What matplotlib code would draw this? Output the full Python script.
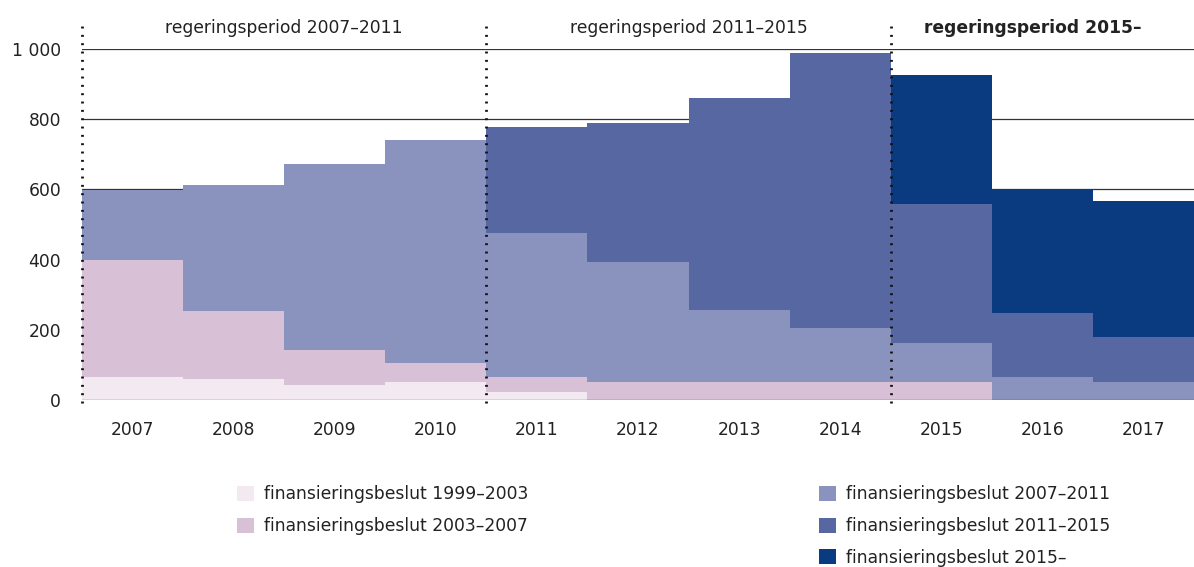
import numpy as np
import matplotlib
matplotlib.use('Agg')
import matplotlib.pyplot as plt
from matplotlib.patches import Patch

plt.rcParams['font.family'] = ['DejaVu Sans']

years = ['2007', '2008', '2009', '2010', '2011', '2012', '2013', '2014', '2015', '2016', '2017']

# segment heights per decision period (bottom to top)
beslut_1999_2003 = [65, 60, 43, 51, 23, 0, 0, 0, 0, 0, 0]
beslut_2003_2007 = [333, 193, 99, 54, 42, 51, 51, 51, 51, 0, 0]
beslut_2007_2011 = [200, 359, 529, 635, 410, 342, 205, 154, 111, 65, 51]
beslut_2011_2015 = [0, 0, 0, 0, 302, 395, 604, 785, 396, 182, 129]
beslut_2015 = [0, 0, 0, 0, 0, 0, 0, 0, 369, 351, 386]

series = [beslut_1999_2003, beslut_2003_2007, beslut_2007_2011, beslut_2011_2015, beslut_2015]
labels = ['finansieringsbeslut 1999–2003', 'finansieringsbeslut 2003–2007',
          'finansieringsbeslut 2007–2011', 'finansieringsbeslut 2011–2015',
          'finansieringsbeslut 2015–']
colors = ['#f2e9f1', '#d8c0d6', '#8a93be', '#5667a1', '#0a3a80']

periods = ['regeringsperiod 2007–2011', 'regeringsperiod 2011–2015', 'regeringsperiod 2015–']
period_start = [0, 4, 8]
period_end = [3, 7, 10]

yticks = [0, 200, 400, 600, 800, 1000]
ytick_labels = ['0', '200', '400', '600', '800', '1 000']

text_col = '#222222'
fs = 12.3

fig = plt.figure(figsize=(11.94, 5.67), dpi=100)
ax = fig.add_axes([82 / 1194, 167 / 567, 1112 / 1194, 351 / 567])

x = np.arange(len(years))
bottom = np.zeros(len(years))
for vals, col in zip(series, colors):
    ax.bar(x, vals, width=1.0, bottom=bottom, color=col, linewidth=0, zorder=2)
    bottom += np.array(vals)

for y in yticks:
    ax.axhline(y, color='#333333', lw=0.9, zorder=3 if y == 0 else 1)

ax.set_xlim(-0.5, len(years) - 0.5)
ax.set_ylim(0, 1000)
ax.set_yticks(yticks)
ax.set_yticklabels(ytick_labels)
ax.set_xticks(x)
ax.set_xticklabels(years)
ax.tick_params(axis='both', length=0, labelsize=fs, colors=text_col)
ax.tick_params(axis='y', pad=15)
ax.tick_params(axis='x', pad=15)
for s in ax.spines.values():
    s.set_visible(False)

# period separators
for s in period_start:
    ax.plot([s - 0.5, s - 0.5], [-8, 1067], color='#111111', lw=2,
            linestyle=(0, (0.7, 2.3)), clip_on=False, zorder=5)

for name, s, e, i in zip(periods, period_start, period_end, range(3)):
    xc = (s + e) / 2 - (0.1 if i == 2 else 0)
    ax.text(xc, 1061, name, ha='center', va='center', fontsize=fs,
            color=text_col, fontweight='bold' if i == 2 else 'normal')

handles = [Patch(facecolor=c, edgecolor='none') for c in colors]
fig.legend(handles[:2], labels[:2], loc='upper left', bbox_to_anchor=(222 / 1194, 1 - 470 / 567),
           frameon=False, fontsize=fs, handlelength=0.95, handleheight=0.95,
           handletextpad=0.6, labelspacing=0.8, labelcolor=text_col)
fig.legend(handles[2:], labels[2:], loc='upper left', bbox_to_anchor=(804 / 1194, 1 - 470 / 567),
           frameon=False, fontsize=fs, handlelength=0.95, handleheight=0.95,
           handletextpad=0.6, labelspacing=0.8, labelcolor=text_col)

fig.savefig('out.png', dpi=100)
